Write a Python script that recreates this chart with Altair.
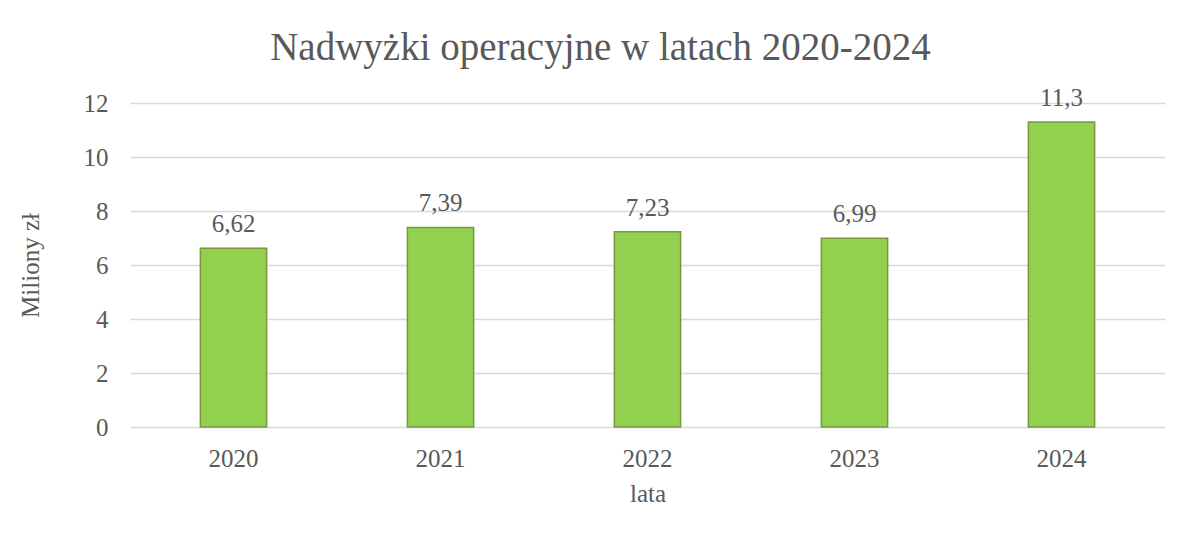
import altair as alt
import pandas as pd

years = ["2020", "2021", "2022", "2023", "2024"]
values = [6.62, 7.39, 7.23, 6.99, 11.3]
labels = ["6,62", "7,39", "7,23", "6,99", "11,3"]

df = pd.DataFrame({"rok": years, "wartosc": values, "etykieta": labels})

FONT = "Liberation Serif"
TXT = "#595959"

base = alt.Chart(df).encode(
    x=alt.X("rok:N", title="lata", sort=years,
            scale=alt.Scale(paddingInner=0.68, paddingOuter=0.34),
            axis=alt.Axis(labelAngle=0, labelPadding=19, titlePadding=10,
                          ticks=False, domain=False)),
    y=alt.Y("wartosc:Q", title="Miliony zł",
            scale=alt.Scale(domain=[0, 12], nice=False),
            axis=alt.Axis(values=[0, 2, 4, 6, 8, 10, 12], ticks=False, domain=False,
                          labelPadding=22, titlePadding=40)),
)

bars = base.mark_bar(fill="#92D050", stroke="#77993C", strokeWidth=1.5)
text = base.mark_text(baseline="alphabetic", dy=-16, font=FONT, fontSize=25, color=TXT).encode(
    text="etykieta:N")

chart = (bars + text).properties(
    width=1035, height=324,
    title=alt.Title("Nadwyżki operacyjne w latach 2020-2024", fontSize=39, font=FONT,
                    color=TXT, fontWeight="normal", anchor="middle", frame="group",
                    dx=-47, offset=18),
    autosize=alt.AutoSizeParams(type="none"),
    padding={"left": 122, "top": 95, "right": 15, "bottom": 104},
).configure_view(stroke=None).configure_axis(
    labelFont=FONT, titleFont=FONT, labelFontSize=25, titleFontSize=25,
    labelColor=TXT, titleColor=TXT, titleFontWeight="normal",
    gridColor="#D9D9D9", gridWidth=1.5,
).configure_axisX(grid=False)

chart.save("out.html", embed_options={"renderer": "svg", "actions": False})
